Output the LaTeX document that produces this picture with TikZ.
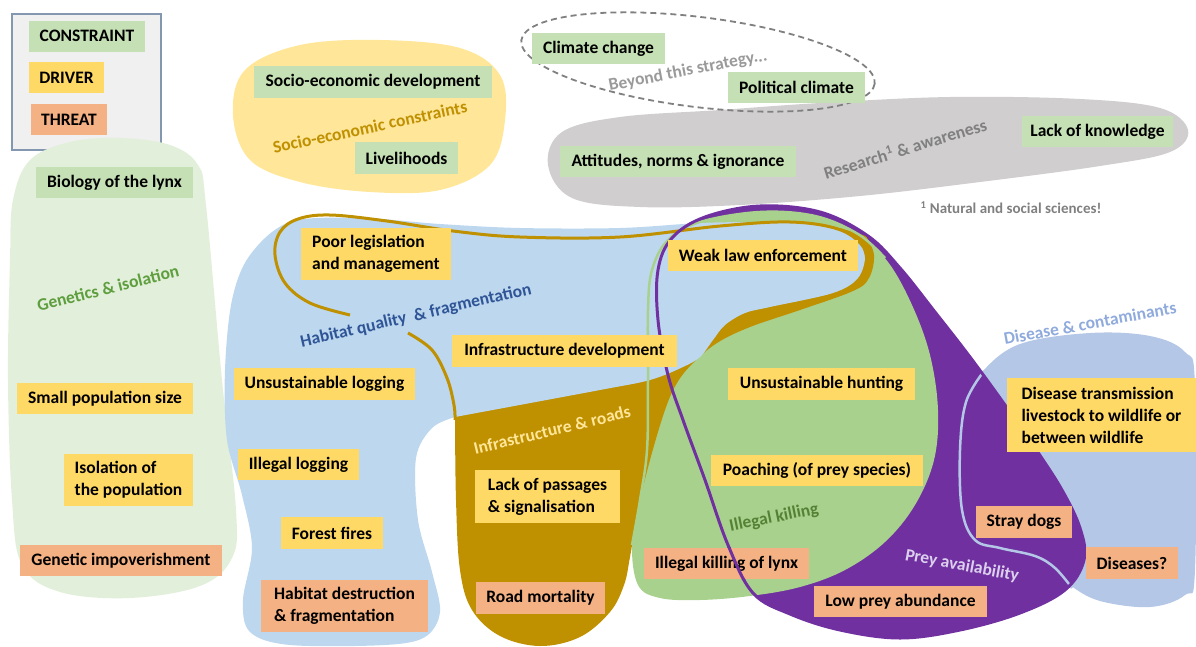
\documentclass[tikz,border=0pt]{standalone}
\usepackage{fontspec}
\setmainfont{Carlito}
\definecolor{conC}{HTML}{C5E0B4}
\definecolor{drvC}{HTML}{FFD966}
\definecolor{thrC}{HTML}{F4B183}
\definecolor{genB}{HTML}{E2EFDA}
\definecolor{socB}{HTML}{FFE699}
\definecolor{resB}{HTML}{D0CECE}
\definecolor{habB}{HTML}{BDD7EE}
\definecolor{golB}{HTML}{BF9000}
\definecolor{illB}{HTML}{A9D18E}
\definecolor{preB}{HTML}{7030A0}
\definecolor{disB}{HTML}{B4C7E7}
\definecolor{legF}{HTML}{F0F0F0}
\definecolor{legD}{HTML}{8497B0}
\definecolor{genT}{HTML}{5E9E3E}
\definecolor{habT}{HTML}{2F5597}
\definecolor{illT}{HTML}{548235}
\definecolor{preT}{HTML}{DCD0EE}
\definecolor{disT}{HTML}{8FAADC}
\definecolor{grT}{HTML}{808080}
\definecolor{beyT}{HTML}{9A9A9A}
\begin{document}
\begin{tikzpicture}[x=1pt,y=-1pt,
  font=\fontsize{17.5}{22}\selectfont\bfseries,
  box/.style={inner sep=0pt, align=left, text=black},
  con/.style={box, fill=conC},
  drv/.style={box, fill=drvC},
  thr/.style={box, fill=thrC},
  lab/.style={inner sep=0pt},
  preyline/.style={preB, line width=3pt},
]
\useasboundingbox (0,0) rectangle (1196,646);

% legend frame
\node[draw=legD, line width=1.2pt, fill=legF, minimum width=149, minimum height=136, inner sep=0pt] (legend) at (86.5,82) {};

% genetics blob
\fill[genB] plot[smooth cycle, tension=0.6] coordinates {(13,200) (30,160) (70,142) (120,138) (170,145) (198,165) (206,205) (222,380) (236,510) (232,558) (200,586) (130,598) (60,592) (22,565) (12,500) (8,380) (10,260)};

% socio-economic blob
\fill[socB] plot[smooth cycle, tension=0.6] coordinates {(233,115) (245,70) (300,45) (380,40) (460,48) (500,75) (505,120) (490,165) (440,190) (370,192) (300,182) (250,160)};

% research blob
\fill[resB] plot[smooth cycle, tension=0.6] coordinates {(548,165) (562,132) (620,117) (720,110) (820,103) (950,97) (1080,99) (1160,108) (1188,130) (1170,152) (1100,166) (980,182) (860,196) (740,205) (640,207) (572,198)};

% beyond ellipse
\draw[draw=grT, line width=1.8pt, dash pattern=on 6pt off 4pt, rotate around={-7:(698,62)}] (698,62) ellipse [x radius=178, y radius=45];

% disease fill
\fill[disB] plot[smooth cycle, tension=0.6] coordinates {(982,372) (1020,344) (1090,333) (1150,336) (1185,352) (1195,385) (1195,570) (1185,595) (1150,607) (1100,601) (1070,585) (1055,568) (1035,556) (1000,548) (975,540) (962,510) (960,450) (966,402)};

% purple fill
\fill[preB] plot[smooth cycle, tension=0.6] coordinates {(753,593) (728,545) (705,480) (683,420) (668,375) (658,320) (658,270) (672,238) (705,217) (760,206) (820,212) (868,236) (900,268) (935,312) (970,357) (1005,405) (1035,448) (1062,490) (1080,528) (1084,560) (1065,590) (1020,613) (960,630) (900,638) (840,630) (790,614)};

% green fill
\fill[illB] plot[smooth cycle, tension=0.6] coordinates {(632,545) (640,500) (647,450) (648,380) (648,310) (652,270) (668,240) (700,222) (760,212) (815,216) (858,234) (888,262) (912,305) (930,355) (938,410) (934,460) (915,505) (885,542) (845,570) (800,587) (750,596) (700,600) (660,598) (638,585)};

% gold fill
\fill[golB] (455,417) -- (455,360) -- (600,300) -- (700,250) -- (840,228) -- plot[smooth, tension=0.6] coordinates {(866,236) (874,255) (869,278) (853,291) (800,310) (750,327) (717,343) (693,363) (677,383) (665,410) (650,460) (638,510) (630,557) (624,585) (610,612) (580,637) (540,646) (500,636) (472,610) (460,570) (456,500) (455,417)} -- cycle;

% habitat (blue) fill
\fill[habB] plot[smooth, tension=0.55] coordinates {(455,417) (600,390) (650,380) (683,367) (700,357) (713,340) (725,325) (745,313) (770,307) (833,293) (858,278) (865,255) (855,238) (838,230) (800,223) (760,222) (700,223) (620,228) (520,228) (440,224) (360,218) (290,222) (250,255) (232,300) (225,370) (227,440) (242,495) (252,548) (243,600) (250,632) (290,645) (385,645) (425,637) (440,612) (432,572) (418,520) (416,458) (432,428) (455,417)} -- cycle;

% disease outline inside purple
\draw[disB, line width=2.5pt] plot[smooth, tension=0.6] coordinates {(984,371) (966,402) (960,450) (962,510) (975,540) (1000,548) (1035,556) (1055,568) (1072,588)};

% green thin outline
\draw[illB, line width=2.5pt] plot[smooth, tension=0.6] coordinates {(632,545) (640,500) (647,450) (648,380) (648,310) (652,270) (668,240) (700,222) (760,212) (815,216) (858,234) (885,258)};

% gold outline
\draw[golB, line width=3pt] plot[smooth, tension=0.6] coordinates {(350,315) (310,303) (285,283) (275,255) (280,232) (298,219) (330,215) (387,221) (453,231) (520,237) (620,237) (720,226) (790,222) (838,229) (862,245) (867,262)};
\draw[golB, line width=3pt] plot[smooth, tension=0.6] coordinates {(408,333) (432,350) (447,378) (454,405) (455,420)};

% purple outline
\draw[preyline] plot[smooth cycle, tension=0.6] coordinates {(753,593) (728,545) (705,480) (683,420) (668,375) (658,320) (658,270) (672,238) (705,217) (760,206) (820,212) (868,236) (900,268) (935,312) (970,357) (1005,405) (1035,448) (1062,490) (1080,528) (1084,560) (1065,590) (1020,613) (960,630) (900,638) (840,630) (790,614)};

% group labels
\node[lab, text=genT, rotate=14] (lgen) at (108,288) {Genetics \& isolation};
\node[lab, text=golB, rotate=12] (lsoc) at (370,127) {Socio-economic constraints};
\node[lab, text=beyT, rotate=11] (lbey) at (688,71) {Beyond this strategy...};
\node[lab, text=grT, rotate=17] (lres) at (905,148) {Research\textsuperscript{1} \& awareness};
\node[lab, text=grT, font=\fontsize{15}{17}\selectfont\bfseries] (lfoot) at (1011,208) {\textsuperscript{1} Natural and social sciences!};
\node[lab, text=habT, rotate=13] (lhab) at (416,316) {Habitat quality\ \ \& fragmentation};
\node[lab, text=socB, rotate=13.5] (linf) at (552,430) {Infrastructure \& roads};
\node[lab, text=illT, rotate=11.5] (lill) at (774,518) {Illegal killing};
\node[lab, text=preT, rotate=-10.5] (lpre) at (962,566) {Prey availability};
\node[lab, text=disT, rotate=10.5] (ldis) at (1090,323) {Disease \& contaminants};

% legend entries
\node[con, minimum width=116, minimum height=31] (kcon) at (87,36) {CONSTRAINT};
\node[drv, minimum width=75, minimum height=31] (kdrv) at (66.5,77.5) {DRIVER};
\node[thr, minimum width=76, minimum height=31] (kthr) at (69,119.5) {THREAT};

% nodes
\node[con, minimum width=238, minimum height=32] (sed) at (373,82) {Socio-economic development};
\node[con, minimum width=103, minimum height=32] (liv) at (406.5,158) {Livelihoods};
\node[con, minimum width=133, minimum height=31] (clc) at (598.5,48.5) {Climate change};
\node[con, minimum width=137, minimum height=31] (pol) at (796.5,87.5) {Political climate};
\node[con, minimum width=236, minimum height=31] (att) at (678,161.5) {Attitudes, norms \& ignorance};
\node[con, minimum width=151, minimum height=31] (lok) at (1097.5,131.5) {Lack of knowledge};
\node[con, minimum width=157, minimum height=31] (bio) at (114.5,182.5) {Biology of the lynx};
\node[drv, minimum width=150, minimum height=52] (leg) at (376,254) {Poor legislation\\and management};
\node[drv, minimum width=190, minimum height=31] (wle) at (763,255.5) {Weak law enforcement};
\node[drv, minimum width=225, minimum height=32] (ind) at (564.5,351) {Infrastructure development};
\node[drv, minimum width=181, minimum height=32] (ulo) at (324.5,384) {Unsustainable logging};
\node[drv, minimum width=187, minimum height=32] (uhu) at (821.5,384) {Unsustainable hunting};
\node[drv, minimum width=176, minimum height=31] (sps) at (105,398.5) {Small population size};
\node[drv, minimum width=189, minimum height=74] (dtr) at (1101.5,415) {Disease transmission\\livestock to wildlife or\\between wildlife};
\node[drv, minimum width=129, minimum height=52] (iso) at (128.5,480) {Isolation of\\the population};
\node[drv, minimum width=121, minimum height=31] (ilo) at (298.5,464.5) {Illegal logging};
\node[drv, minimum width=212, minimum height=31] (poa) at (817,470.5) {Poaching (of prey species)};
\node[drv, minimum width=145, minimum height=53] (lps) at (547.5,496.5) {Lack of passages\\\& signalisation};
\node[drv, minimum width=102, minimum height=32] (ffi) at (332,533) {Forest fires};
\node[thr, minimum width=96, minimum height=32] (sdo) at (1024,522) {Stray dogs};
\node[thr, minimum width=165, minimum height=31] (ikl) at (726.5,563.5) {Illegal killing of lynx};
\node[thr, minimum width=202, minimum height=31] (gim) at (121,560.5) {Genetic impoverishment};
\node[thr, minimum width=92, minimum height=32] (dis) at (1132,563) {Diseases?};
\node[thr, minimum width=129, minimum height=32] (rmo) at (540.5,598) {Road mortality};
\node[thr, minimum width=167, minimum height=52] (hdf) at (344.5,606) {Habitat destruction\\\& fragmentation};
\node[thr, minimum width=173, minimum height=31] (lpa) at (900.5,601.5) {Low prey abundance};

% the purple outline runs over the "Illegal killing of lynx" box
\begin{scope}
\clip (ikl.north west) rectangle (ikl.south east);
\draw[preyline] plot[smooth cycle, tension=0.6] coordinates {(753,593) (728,545) (705,480) (683,420) (668,375) (658,320) (658,270) (672,238) (705,217) (760,206) (820,212) (868,236) (900,268) (935,312) (970,357) (1005,405) (1035,448) (1062,490) (1080,528) (1084,560) (1065,590) (1020,613) (960,630) (900,638) (840,630) (790,614)};
\end{scope}

\end{tikzpicture}
\end{document}
